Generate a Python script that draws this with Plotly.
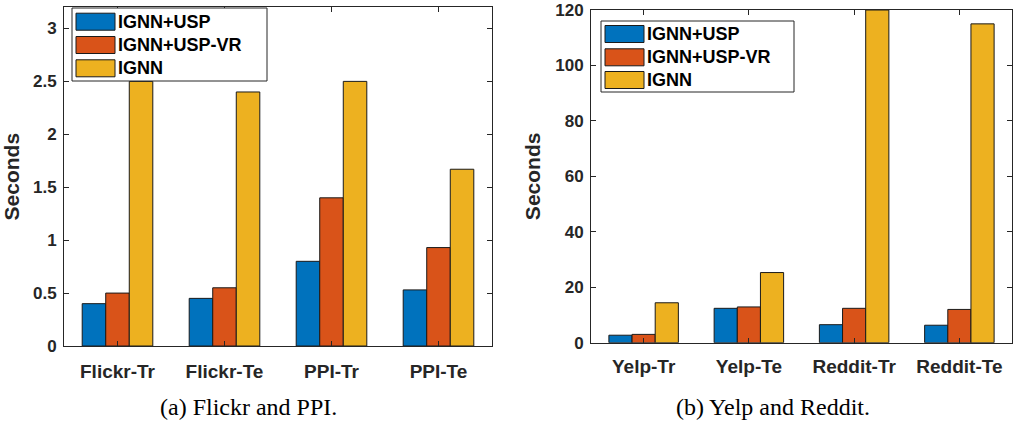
import plotly.graph_objects as go

W, H = 1013, 421

# ---- data ----
cats_a = ["Flickr-Tr", "Flickr-Te", "PPI-Tr", "PPI-Te"]
usp_a = [0.40, 0.45, 0.80, 0.53]
uspvr_a = [0.50, 0.55, 1.40, 0.93]
ignn_a = [2.50, 2.40, 2.50, 1.67]

cats_b = ["Yelp-Tr", "Yelp-Te", "Reddit-Tr", "Reddit-Te"]
usp_b = [2.7, 12.4, 6.5, 6.3]
uspvr_b = [3.0, 12.9, 12.4, 12.0]
ignn_b = [14.4, 25.3, 120.0, 115.0]

series_names = ["IGNN+USP", "IGNN+USP-VR", "IGNN"]
colors = ["#0072BD", "#D95319", "#EDB120"]
yticks_a = [0, 0.5, 1, 1.5, 2, 2.5, 3]
yticks_b = [0, 20, 40, 60, 80, 100, 120]

TXT = "#262626"
SANS = "Liberation Sans, Arial, sans-serif"
SERIF = "Liberation Serif, Times New Roman, serif"


def px(x):
    return x / W


def py(y):
    return 1 - y / H


fig = go.Figure()
for vals, name, col in zip([usp_a, uspvr_a, ignn_a], series_names, colors):
    fig.add_trace(go.Bar(x=cats_a, y=vals, name=name, marker=dict(color=col, line=dict(color="#1a1a1a", width=1)),
                         xaxis="x", yaxis="y", showlegend=False))
for vals, name, col in zip([usp_b, uspvr_b, ignn_b], series_names, colors):
    fig.add_trace(go.Bar(x=cats_b, y=vals, name=name, marker=dict(color=col, line=dict(color="#1a1a1a", width=1)),
                         xaxis="x2", yaxis="y2", showlegend=False))

common = dict(showline=True, mirror="ticks", linecolor=TXT, linewidth=1, ticks="inside",
              tickcolor=TXT, ticklen=5, showgrid=False, zeroline=False, automargin=False)
xfont = dict(family=SANS, size=19, color=TXT, weight="bold")
yfont = dict(family=SANS, size=17, color=TXT, weight="bold")
ytitle_font = dict(family=SANS, size=21, color=TXT, weight="bold")

fig.update_layout(
    template="none",
    width=W, height=H, margin=dict(l=0, r=0, t=0, b=0),
    paper_bgcolor="white", plot_bgcolor="white",
    barmode="group", bargap=0.34, bargroupgap=0,
    xaxis=dict(domain=[px(64), px(492)], anchor="y", range=[-0.5, 3.5], ticklabelstandoff=8,
               tickfont=xfont, **common),
    yaxis=dict(domain=[py(346), py(7.3)], anchor="x", range=[0, 3.2], tickvals=yticks_a,
               ticktext=[f"{v:g}" for v in yticks_a], ticklabelstandoff=3, tickfont=yfont,
               title=dict(text="Seconds", font=ytitle_font, standoff=8), **common),
    xaxis2=dict(domain=[px(591), px(1012)], anchor="y2", range=[-0.5, 3.5], ticklabelstandoff=6,
                tickfont=xfont, **common),
    yaxis2=dict(domain=[py(342.7), py(10)], anchor="x2", range=[0, 120], tickvals=yticks_b,
                ticktext=[f"{v:g}" for v in yticks_b], ticklabelstandoff=3, tickfont=yfont,
                title=dict(text="Seconds", font=ytitle_font, standoff=8), **common),
)

shapes = []
annotations = []


def add_legend(x0, y0, x1, y1, sw_x0, sw_x1, rows_y, text_x):
    shapes.append(dict(type="rect", xref="paper", yref="paper", x0=px(x0), x1=px(x1), y0=py(y1), y1=py(y0),
                       line=dict(color=TXT, width=1), fillcolor="white"))
    for ry, name, col in zip(rows_y, series_names, colors):
        shapes.append(dict(type="rect", xref="paper", yref="paper", x0=px(sw_x0), x1=px(sw_x1),
                           y0=py(ry + 8.5), y1=py(ry - 8.5), line=dict(color="#1a1a1a", width=1), fillcolor=col))
        annotations.append(dict(xref="paper", yref="paper", x=px(text_x), y=py(ry), text=name, showarrow=False,
                                xanchor="left", yanchor="middle",
                                font=dict(family=SANS, size=18, color="black", weight="bold")))


add_legend(72, 8, 267, 81, 76, 115, [21.7, 45, 68.3], 116)
add_legend(601, 21, 794, 92, 605, 644, [34, 57.3, 80], 645)

annotations.append(dict(xref="paper", yref="paper", x=px(248), y=py(407), text="(a) Flickr and PPI.",
                        showarrow=False, xanchor="center", yanchor="middle",
                        font=dict(family=SERIF, size=24, color="black")))
annotations.append(dict(xref="paper", yref="paper", x=px(773), y=py(407), text="(b) Yelp and Reddit.",
                        showarrow=False, xanchor="center", yanchor="middle",
                        font=dict(family=SERIF, size=24, color="black")))

fig.update_layout(shapes=shapes, annotations=annotations)
fig.write_html("out.html", config={"displayModeBar": False},
               post_script="document.body.style.margin='0';document.body.style.overflow='hidden';")
